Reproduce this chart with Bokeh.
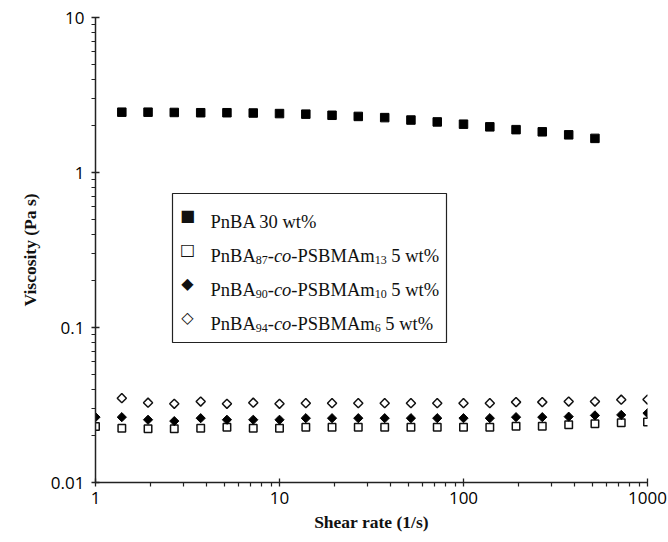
import numpy as np
from bokeh.plotting import figure
from bokeh.models import Label, BoxAnnotation, FixedTicker, CustomJSTickFormatter
from bokeh.embed import file_html
from bokeh.resources import INLINE

# ---------------- data ----------------
shear_pnba = [1.39, 1.93, 2.68, 3.73, 5.18, 7.20, 10.0, 13.9, 19.3, 26.8, 37.3,
              51.8, 72.0, 100, 139, 193, 268, 373, 518]
visc_pnba = [2.45, 2.45, 2.44, 2.43, 2.43, 2.42, 2.40, 2.38, 2.34, 2.30, 2.26,
             2.18, 2.12, 2.05, 1.97, 1.89, 1.83, 1.75, 1.66]

shear = [1.00, 1.39, 1.93, 2.68, 3.73, 5.18, 7.20, 10.0, 13.9, 19.3, 26.8, 37.3,
         51.8, 72.0, 100, 139, 193, 268, 373, 518, 720, 1000]
visc_87 = [0.0230, 0.0224, 0.0222, 0.0222, 0.0224, 0.0227, 0.0224, 0.0224, 0.0227,
           0.0227, 0.0227, 0.0227, 0.0227, 0.0227, 0.0227, 0.0227, 0.0231, 0.0231,
           0.0236, 0.0239, 0.0243, 0.0246]
visc_90 = [0.0264, 0.0264, 0.0254, 0.0249, 0.0260, 0.0254, 0.0254, 0.0254, 0.0260,
           0.0260, 0.0260, 0.0260, 0.0260, 0.0260, 0.0260, 0.0260, 0.0264, 0.0264,
           0.0266, 0.0271, 0.0273, 0.0280]
shear_94 = [1.39, 1.93, 2.68, 3.73, 5.18, 7.20, 10.0, 13.9, 19.3, 26.8, 37.3,
            51.8, 72.0, 100, 139, 193, 268, 373, 518, 720, 1000]
visc_94 = [0.0350, 0.0327, 0.0322, 0.0333, 0.0322, 0.0327, 0.0322, 0.0325, 0.0325,
           0.0325, 0.0325, 0.0325, 0.0325, 0.0325, 0.0325, 0.0330, 0.0330, 0.0333,
           0.0333, 0.0342, 0.0343]

x_ticks = [1, 10, 100, 1000]
y_ticks = [0.01, 0.1, 1, 10]
x_title = "Shear rate (1/s)"
y_title = "Viscosity (Pa s)"

# legend rich-text pieces: (text, kind) kind: n normal, i italic, s subscript
legend_lines = [
    [("PnBA 30 wt%", "n")],
    [("PnBA", "n"), ("87", "s"), ("-", "n"), ("co", "i"), ("-PSBMAm", "n"), ("13", "s"), (" 5 wt%", "n")],
    [("PnBA", "n"), ("90", "s"), ("-", "n"), ("co", "i"), ("-PSBMAm", "n"), ("10", "s"), (" 5 wt%", "n")],
    [("PnBA", "n"), ("94", "s"), ("-", "n"), ("co", "i"), ("-PSBMAm", "n"), ("6", "s"), (" 5 wt%", "n")],
]
legend_symbols = ["\u25A0", "\u25A1", "\u25C6", "\u25C7"]

# ---------------- layout ----------------
W, H = 668, 542
FL, FR, FT, FB = 95, 647, 17, 482

p = figure(width=W, height=H, x_axis_type="log", y_axis_type="log",
           x_range=(1, 1000), y_range=(0.01, 10),
           output_backend="svg", toolbar_location=None,
           min_border_left=FL, min_border_right=W - FR,
           min_border_top=FT, min_border_bottom=H - FB)
p.outline_line_color = None
p.xgrid.visible = False
p.ygrid.visible = False
p.background_fill_color = "white"
p.border_fill_color = "white"

x_minor = [m * 10 ** e for e in range(0, 3) for m in range(2, 10)]
y_minor = [m * 10.0 ** e for e in range(-2, 1) for m in range(2, 10)]
p.xaxis.ticker = FixedTicker(ticks=x_ticks, minor_ticks=x_minor)
p.yaxis.ticker = FixedTicker(ticks=y_ticks, minor_ticks=y_minor)
fmt = CustomJSTickFormatter(code="""
    if (tick >= 1) { return tick.toFixed(0); }
    const d = Math.round(-Math.log10(tick));
    return tick.toFixed(d);
""")
p.xaxis.formatter = fmt
p.yaxis.formatter = fmt

for ax in (p.xaxis[0], p.yaxis[0]):
    ax.axis_line_color = "#222222"
    ax.axis_line_width = 1.5
    ax.major_tick_line_color = "#222222"
    ax.major_tick_line_width = 1.3
    ax.major_tick_in = 4
    ax.major_tick_out = 4
    ax.minor_tick_line_color = "#222222"
    ax.minor_tick_line_width = 1.2
    ax.minor_tick_in = 0
    ax.minor_tick_out = 4
    ax.major_label_text_font = "Open Sans"
    ax.major_label_text_font_size = "17px"
    ax.major_label_text_color = "#000000"
    ax.axis_label_text_font = "Liberation Serif"
    ax.axis_label_text_font_style = "bold"
    ax.axis_label_text_font_size = "17.5px"
    ax.axis_label_text_color = "#111111"

p.xaxis.axis_label = x_title
p.yaxis.axis_label = y_title
p.xaxis.major_label_standoff = 5
p.yaxis.major_label_standoff = 7
p.xaxis.axis_label_standoff = 5
p.yaxis.axis_label_standoff = 8

# ---------------- data marks ----------------
p.scatter(shear_pnba, visc_pnba, marker="square", size=8.5,
          fill_color="black", line_color="black")
p.scatter(shear, visc_87, marker="square", size=7.5,
          fill_color="white", line_color="#111111", line_width=1.5)
p.scatter(shear, visc_90, marker="square", size=6.5, angle=np.pi / 4,
          fill_color="black", line_color="black")
p.scatter(shear_94, visc_94, marker="square", size=6.5, angle=np.pi / 4,
          fill_color="white", line_color="#111111", line_width=1.5)

# ---------------- legend (hand-built for rich text) ----------------
def X(px):
    return px - FL

def Y(py):
    return FB - py

box = BoxAnnotation(left=X(172), right=X(446), top=Y(193), bottom=Y(342),
                    left_units="screen", right_units="screen",
                    top_units="screen", bottom_units="screen",
                    fill_color="white", fill_alpha=1.0,
                    line_color="#222222", line_width=1.2, line_alpha=1.0)
p.add_layout(box)

WID_N = {' ': 250, '%': 833, '-': 333, 'A': 722, 'B': 667, 'M': 889, 'P': 556,
         'S': 556, 'm': 778, 'n': 500, 't': 278, 'w': 722}
WID_I = {'c': 444, 'o': 500}
MAIN = 18.5
SUB = 12.0

def text_w(s, kind):
    if kind == "i":
        return sum(WID_I.get(c, 500) for c in s) * MAIN / 1000
    size = SUB if kind == "s" else MAIN
    return sum(WID_N.get(c, 500) for c in s) * size / 1000

text_x0 = 210
baselines = [221, 255, 289, 323]
for line, base, sym in zip(legend_lines, baselines, legend_symbols):
    cx = text_x0
    for txt, kind in line:
        lead = len(txt) - len(txt.lstrip(" "))
        if lead:
            cx += text_w(" " * lead, kind)
            txt = txt.lstrip(" ")
        yy = base + (4 if kind == "s" else 0)
        p.add_layout(Label(x=X(cx), y=Y(yy), x_units="screen", y_units="screen",
                           text=txt, text_font="Liberation Serif",
                           text_font_size=f"{SUB if kind == 's' else MAIN}px",
                           text_font_style="italic" if kind == "i" else "normal",
                           text_color="#111111",
                           text_align="left", text_baseline="alphabetic"))
        cx += text_w(txt, kind)
    p.add_layout(Label(x=X(187), y=Y(base - 6), x_units="screen", y_units="screen",
                       text=sym, text_font="DejaVu Sans", text_font_size="16px",
                       text_color="#111111", text_align="center",
                       text_baseline="middle"))

open("out.html", "w").write(file_html(p, INLINE))
